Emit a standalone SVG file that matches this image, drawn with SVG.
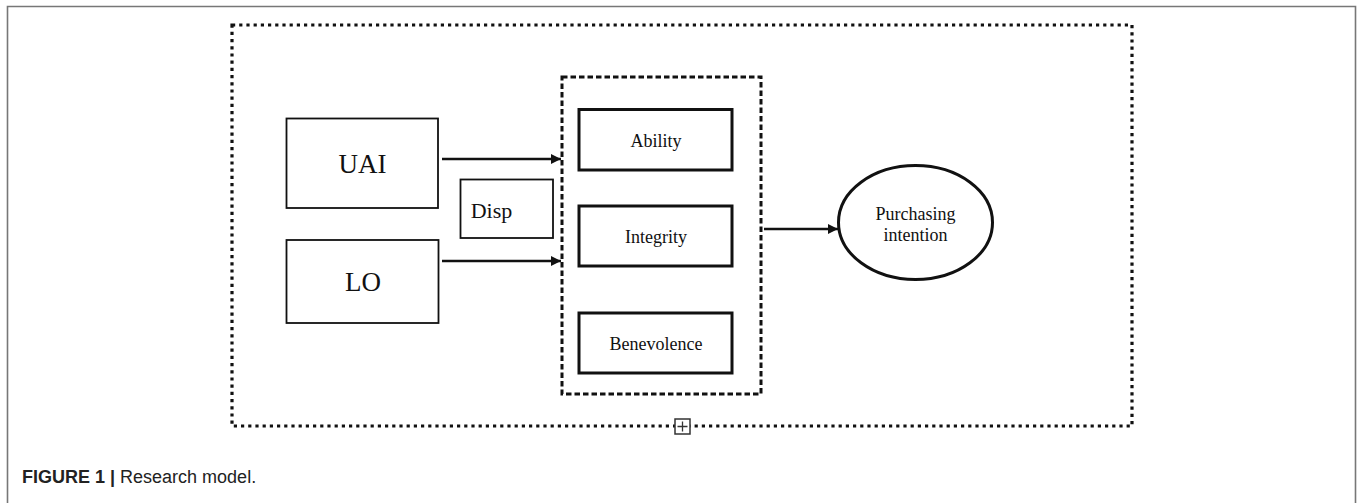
<svg xmlns="http://www.w3.org/2000/svg" width="1357" height="503" viewBox="0 0 1357 503">
<style>
.serif{font-family:"Liberation Serif","Times New Roman",serif;fill:#111;text-anchor:middle}
.thin{fill:#fff;stroke:#111;stroke-width:1.8}
.thick{fill:#fff;stroke:#111;stroke-width:3}
.conn{stroke:#111;stroke-width:2.5;fill:none}
</style>
<defs>
<marker id="arr" viewBox="0 0 10 10" refX="10" refY="5" markerWidth="13" markerHeight="10" markerUnits="userSpaceOnUse" orient="auto">
<path d="M0,0 L10,5 L0,10 z" fill="#111"/>
</marker>
</defs>
<rect width="1357" height="503" fill="#fff"/>
<g id="frame">
<path d="M7.5,503 V6.5 H1355.5 V503" fill="none" stroke="#777" stroke-width="1.6"/>
</g>
<g id="outer-group">
<rect x="232" y="25" width="900" height="401" fill="none" stroke="#111" stroke-width="3.2" stroke-dasharray="3.2 4"/>
<rect x="675" y="419" width="15" height="15" fill="#fff" stroke="#333" stroke-width="1.5"/>
<path d="M682.5,421.5 V431.5 M677.5,426.5 H687.5" stroke="#333" stroke-width="1.3"/>
</g>
<g id="trust-group">
<rect x="562" y="77" width="199" height="317" fill="none" stroke="#111" stroke-width="3" stroke-dasharray="5.5 3"/>
</g>
<g id="UAI">
<rect class="thin" x="286.5" y="118.5" width="151.5" height="89.5"/>
<text class="serif" x="362.5" y="173" font-size="27">UAI</text>
</g>
<g id="LO">
<rect class="thin" x="286.5" y="240" width="152" height="83"/>
<text class="serif" x="363" y="291" font-size="27">LO</text>
</g>
<g id="Disp">
<rect class="thin" x="460.5" y="179.5" width="92.5" height="58.5"/>
<text class="serif" x="491.5" y="218" font-size="22">Disp</text>
</g>
<g id="Ability">
<rect class="thick" x="579" y="109.5" width="153" height="60.5"/>
<text class="serif" x="656" y="147" font-size="18">Ability</text>
</g>
<g id="Integrity">
<rect class="thick" x="579" y="206" width="153" height="60"/>
<text class="serif" x="656" y="243" font-size="18">Integrity</text>
</g>
<g id="Benevolence">
<rect class="thick" x="579" y="313" width="153" height="60"/>
<text class="serif" x="656" y="350" font-size="18">Benevolence</text>
</g>
<g id="Purchasing">
<ellipse cx="915.5" cy="222.5" rx="77" ry="57" fill="#fff" stroke="#111" stroke-width="3"/>
<text class="serif" x="915.5" y="220" font-size="18">Purchasing</text>
<text class="serif" x="915.5" y="241" font-size="18">intention</text>
</g>
<g id="connectors">
<line class="conn" x1="442" y1="159" x2="561" y2="159" marker-end="url(#arr)"/>
<line class="conn" x1="442" y1="261" x2="561" y2="261" marker-end="url(#arr)"/>
<line class="conn" x1="764" y1="229" x2="838" y2="229" marker-end="url(#arr)"/>
</g>
<g id="caption">
<text x="22" y="483" font-family="Liberation Sans,Arial,sans-serif" font-size="18" fill="#222"><tspan font-weight="bold">FIGURE 1 | </tspan>Research model.</text>
</g>
</svg>
